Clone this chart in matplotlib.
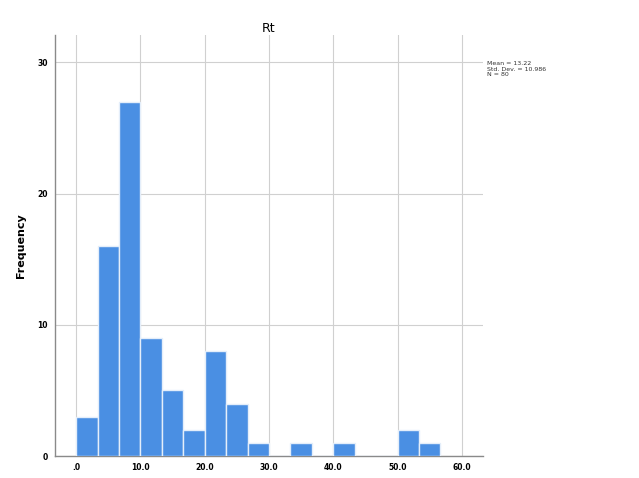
import numpy as np
import matplotlib
matplotlib.use("Agg")
from matplotlib import pyplot as plt

# histogram of Rt, bins of width 10/3 starting at 0
bin_width = 10.0 / 3.0
counts = [3, 16, 27, 9, 5, 2, 8, 4, 1, 0, 1, 0, 1, 0, 0, 2, 1]
x_ticks = [0, 10, 20, 30, 40, 50, 60]
x_tick_labels = [".0", "10.0", "20.0", "30.0", "40.0", "50.0", "60.0"]
y_ticks = [0, 10, 20, 30]
stats_text = "Mean = 13.22\nStd. Dev. = 10.986\nN = 80"

edges = np.arange(len(counts)) * bin_width

fig = plt.figure(figsize=(6.39, 4.78), dpi=100)
ax = fig.add_axes([0.086, 0.046, 0.670, 0.881])

ax.bar(edges, counts, width=bin_width, align="edge",
       color="#4a8fe3", edgecolor="#e4eefa", linewidth=1.0, zorder=3)

ax.set_xlim(-3.3, 63.3)
ax.set_ylim(0, 32.1)
ax.set_xticks(x_ticks)
ax.set_xticklabels(x_tick_labels)
ax.set_yticks(y_ticks)
ax.grid(True, color="#d0d0d0", linewidth=0.8, zorder=0)
ax.tick_params(length=0, labelsize=5.5, pad=5)
for lab in ax.get_xticklabels() + ax.get_yticklabels():
    lab.set_fontweight("bold")

for side in ["top", "right"]:
    ax.spines[side].set_visible(False)
for side in ["left", "bottom"]:
    ax.spines[side].set_color("#8a8a8a")
    ax.spines[side].set_linewidth(1.0)

ax.set_ylabel("Frequency", fontsize=8, fontweight="bold", labelpad=8)
ax.set_title("Rt", fontsize=9, pad=0)

fig.text(0.762, 0.872, stats_text, fontsize=4.5, va="top", ha="left",
         linespacing=1.1, color="#333333")

fig.savefig("out.png", dpi=100)
